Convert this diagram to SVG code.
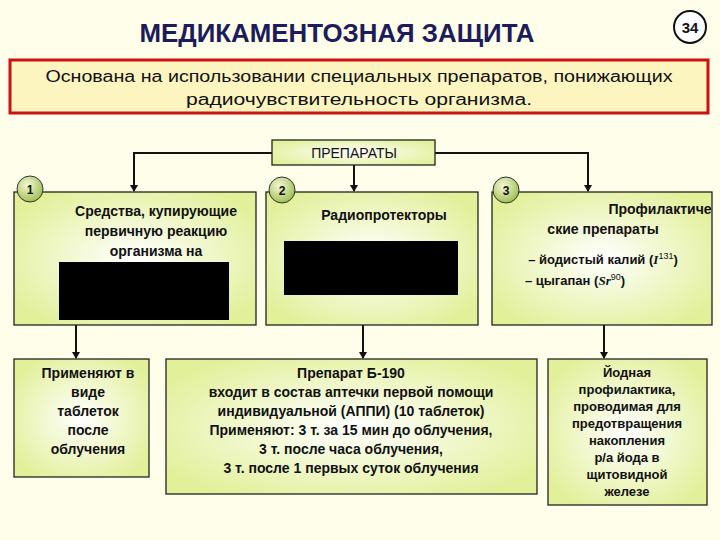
<svg xmlns="http://www.w3.org/2000/svg" width="720" height="540" viewBox="0 0 720 540">
<style>
text{font-family:"Liberation Sans",Arial,sans-serif;font-weight:bold;fill:#111;text-anchor:middle}
.b{fill:url(#g);stroke:#222;stroke-width:1.3}
.c{fill:url(#cg);stroke:#333;stroke-width:1}
.l{fill:none;stroke:#111;stroke-width:2}
.t{font-size:14px}
.n{font-size:12px}
</style>
<defs>
<radialGradient id="g" cx="0.5" cy="0.5" r="0.6"><stop offset="0" stop-color="#ffffff"/><stop offset="1" stop-color="#e2f09a"/></radialGradient>
<radialGradient id="cg" cx="0.4" cy="0.35" r="0.7"><stop offset="0" stop-color="#f4f8d8"/><stop offset="1" stop-color="#9cbc4c"/></radialGradient>
<marker id="a" markerWidth="8" markerHeight="8" refX="6" refY="4" orient="auto" markerUnits="userSpaceOnUse"><path d="M0,0L7,4L0,8z" fill="#111"/></marker>
</defs>
<rect width="720" height="540" fill="#fffeeb"/>
<g id="title"><text x="337" y="42" font-size="25" textLength="395" lengthAdjust="spacingAndGlyphs" style="fill:#1c1c5c">МЕДИКАМЕНТОЗНАЯ ЗАЩИТА</text>
<circle cx="690" cy="27" r="16" fill="#fff" stroke="#111" stroke-width="2"/><text x="690" y="33" font-size="15">34</text></g>
<g id="intro"><rect x="10" y="60" width="698" height="53" fill="#fdf5c0" stroke="#cc1111" stroke-width="3"/>
<text x="359" y="82" font-size="16" textLength="627" lengthAdjust="spacingAndGlyphs" style="font-weight:normal">Основана на использовании специальных препаратов, понижающих</text>
<text x="359" y="105" font-size="16" textLength="346" lengthAdjust="spacingAndGlyphs" style="font-weight:normal">радиочувствительность организма.</text></g>
<g id="connectors">
<path class="l" d="M272,153H134V191" marker-end="url(#a)"/>
<path class="l" d="M435,153H588V191" marker-end="url(#a)"/>
<path class="l" d="M354,165V191" marker-end="url(#a)"/>
<path class="l" d="M76,325V358" marker-end="url(#a)"/>
<path class="l" d="M363,325V358" marker-end="url(#a)"/>
<path class="l" d="M604,325V358" marker-end="url(#a)"/>
</g>
<g id="prep"><rect class="b" x="272" y="140" width="163" height="25"/><text x="354" y="158" font-size="14" style="font-weight:normal">ПРЕПАРАТЫ</text></g>
<g id="n1"><rect class="b" x="14" y="192" width="242" height="133"/>
<text class="t" x="156" y="216">Средства, купирующие</text><text class="t" x="156" y="236">первичную реакцию</text><text class="t" x="156" y="256">организма на</text>
<rect x="59" y="262" width="170" height="58" fill="#000"/>
<circle class="c" cx="30" cy="189" r="13"/><text class="n" x="30" y="194">1</text></g>
<g id="n2"><rect class="b" x="266" y="192" width="212" height="133"/>
<text class="t" x="384" y="220">Радиопротекторы</text>
<rect x="284" y="241" width="174" height="54" fill="#000"/>
<circle class="c" cx="282" cy="190" r="13"/><text class="n" x="282" y="195">2</text></g>
<g id="n3"><rect class="b" x="492" y="192" width="220" height="133"/>
<text class="t" x="660" y="214">Профилактиче</text><text class="t" x="603" y="234">ские препараты</text>
<text x="603" y="264" font-size="13">– йодистый калий (<tspan font-family="Liberation Serif" font-style="italic">I</tspan><tspan font-size="9" dy="-5" style="font-weight:normal">131</tspan><tspan dy="5">)</tspan></text>
<text x="575" y="285" font-size="13">– цыгапан (<tspan font-family="Liberation Serif" font-style="italic">Sr</tspan><tspan font-size="9" dy="-5" style="font-weight:normal">90</tspan><tspan dy="5">)</tspan></text>
<circle class="c" cx="506" cy="190" r="13"/><text class="n" x="506" y="195">3</text></g>
<g id="n1b"><rect class="b" x="14" y="359" width="135" height="118"/>
<text class="t" x="88" y="378">Применяют в</text><text class="t" x="88" y="397">виде</text><text class="t" x="88" y="416">таблеток</text><text class="t" x="88" y="435">после</text><text class="t" x="88" y="454">облучения</text></g>
<g id="n2b"><rect class="b" x="166" y="359" width="371" height="135"/>
<text class="t" x="351" y="378">Препарат Б-190</text><text class="t" x="351" y="397">входит в состав аптечки первой помощи</text><text class="t" x="351" y="416">индивидуальной (АППИ) (10 таблеток)</text><text class="t" x="351" y="435">Применяют: 3 т. за 15 мин до облучения,</text><text class="t" x="351" y="454">3 т. после часа облучения,</text><text class="t" x="351" y="473">3 т. после 1 первых суток облучения</text></g>
<g id="n3b"><rect class="b" x="548" y="359" width="159" height="146"/>
<text x="627" y="377" font-size="13">Йодная</text><text x="627" y="394" font-size="13">профилактика,</text><text x="627" y="411" font-size="13">проводимая для</text><text x="627" y="428" font-size="13">предотвращения</text><text x="627" y="445" font-size="13">накопления</text><text x="627" y="462" font-size="13">р/а йода в</text><text x="627" y="479" font-size="13">щитовидной</text><text x="627" y="496" font-size="13">железе</text></g>
</svg>
